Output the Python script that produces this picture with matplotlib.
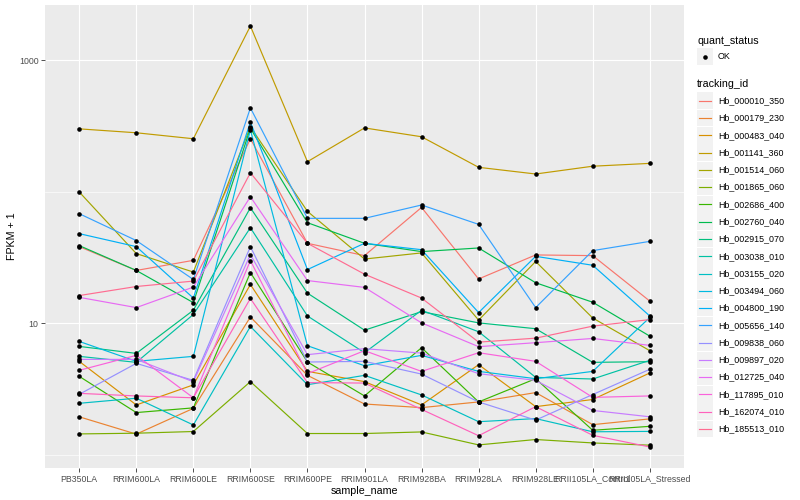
import matplotlib
matplotlib.use('Agg')
import matplotlib.pyplot as plt
from matplotlib.lines import Line2D
from matplotlib.patches import Rectangle
import numpy as np

plt.rcParams['font.family'] = ['Liberation Sans', 'DejaVu Sans']

sample_names = ['PB350LA', 'RRIM600LA', 'RRIM600LE', 'RRIM600SE', 'RRIM600PE',
                'RRIM901LA', 'RRIM928BA', 'RRIM928LA', 'RRIM928LE',
                'RRII105LA_Control', 'RRII105LA_Stressed']

tracking_ids = ['Hb_000010_350', 'Hb_000179_230', 'Hb_000483_040', 'Hb_001141_360',
                'Hb_001514_060', 'Hb_001865_060', 'Hb_002686_400', 'Hb_002760_040',
                'Hb_002915_070', 'Hb_003038_010', 'Hb_003155_020', 'Hb_003494_060',
                'Hb_004800_190', 'Hb_005656_140', 'Hb_009838_060', 'Hb_009897_020',
                'Hb_012725_040', 'Hb_117895_010', 'Hb_162074_010', 'Hb_185513_010']

# ggplot default hue palette for 20 levels
hue_colors = ['#F8766D', '#EA8331', '#D89000', '#C09B00', '#A3A500', '#7CAE00',
              '#39B600', '#00BB4E', '#00BF7D', '#00C1A3', '#00BFC4', '#00BAE0',
              '#00B0F6', '#35A2FF', '#9590FF', '#C77CFF', '#E76BF3', '#FA62DB',
              '#FF62BC', '#FF6C91']

# FPKM + 1 per sample (same order as sample_names)
hb_000010_350 = [38.4, 25.3, 30.2, 254, 40.7, 32.8, 76.3, 21.8, 33.2, 32.8, 14.8]
hb_000179_230 = [1.95, 1.44, 2.26, 11.2, 4.03, 2.44, 2.29, 2.53, 2.98, 1.70, 1.88]
hb_000483_040 = [5.15, 2.40, 3.41, 19.8, 4.32, 3.61, 2.40, 4.86, 2.33, 2.64, 4.20]
hb_001141_360 = [302, 282, 254, 1828, 170, 307, 263, 154, 137, 157, 165]
hb_001514_060 = [100, 34.0, 24.6, 313, 71.2, 30.9, 34.4, 10.6, 29.6, 11.0, 6.21]
hb_001865_060 = [1.445, 1.463, 1.507, 3.61, 1.455, 1.455, 1.496, 1.192, 1.31, 1.234, 1.186]
hb_002686_400 = [3.96, 2.10, 2.28, 24.4, 5.09, 2.81, 6.54, 2.53, 3.80, 1.54, 1.65]
hb_002760_040 = [39.1, 25.3, 14.4, 305, 58.4, 40.7, 35.2, 37.5, 20.4, 14.5, 8.01]
hb_002915_070 = [6.69, 5.92, 12.6, 75.9, 17.0, 8.89, 12.3, 10.1, 9.12, 5.06, 5.12]
hb_003038_010 = [5.62, 5.06, 11.7, 53.5, 11.4, 5.99, 12.6, 8.65, 3.89, 3.78, 5.24]
hb_003155_020 = [2.47, 2.70, 1.69, 9.49, 3.42, 4.03, 2.86, 1.79, 1.89, 1.50, 1.51]
hb_003494_060 = [7.30, 5.15, 5.62, 297, 6.77, 4.77, 5.72, 4.32, 3.80, 4.32, 11.1]
hb_004800_190 = [48.2, 38.4, 15.6, 341, 25.7, 40.7, 36.4, 12.1, 32.4, 27.7, 11.4]
hb_005656_140 = [68.4, 42.7, 21.6, 436, 63.0, 63.0, 79.6, 56.7, 13.2, 35.8, 42.1]
hb_009838_060 = [2.89, 4.97, 3.69, 38.4, 5.09, 5.15, 4.12, 2.53, 1.84, 2.88, 4.48]
hb_009897_020 = [5.33, 5.33, 3.60, 33.4, 5.79, 6.43, 5.95, 4.15, 3.69, 2.18, 1.95]
hb_012725_040 = [15.8, 13.2, 18.9, 92.0, 21.2, 18.8, 10.1, 6.66, 7.14, 7.69, 6.81]
hb_117895_010 = [4.40, 5.72, 2.72, 30.1, 4.15, 6.21, 4.32, 5.99, 5.15, 2.74, 2.81]
hb_162074_010 = [2.94, 2.81, 2.72, 15.5, 3.55, 3.52, 2.22, 1.40, 2.33, 1.41, 1.15]
hb_185513_010 = [16.3, 19.1, 21.0, 140, 40.7, 23.7, 15.6, 7.21, 7.73, 9.54, 10.7]

series = [hb_000010_350, hb_000179_230, hb_000483_040, hb_001141_360, hb_001514_060,
          hb_001865_060, hb_002686_400, hb_002760_040, hb_002915_070, hb_003038_010,
          hb_003155_020, hb_003494_060, hb_004800_190, hb_005656_140, hb_009838_060,
          hb_009897_020, hb_012725_040, hb_117895_010, hb_162074_010, hb_185513_010]

W, H = 800, 500
fig = plt.figure(figsize=(W / 100, H / 100), dpi=100)
ax = fig.add_axes([45 / W, 1 - 468 / H, (684 - 45) / W, (468 - 5) / H])
ax.set_facecolor('#EBEBEB')
for s in ax.spines.values():
    s.set_visible(False)

x = np.arange(len(sample_names))
for vals, col in zip(series, hue_colors):
    ax.plot(x, vals, color=col, lw=0.85, zorder=3, solid_capstyle='butt')
for vals in series:
    ax.plot(x, vals, 'o', color='black', ms=3.3, mew=0, zorder=4)

ax.set_yscale('log')
ax.set_xlim(-0.6, len(sample_names) - 0.4)
allv = np.concatenate([np.asarray(v, dtype=float) for v in series])
lo, hi = np.log10(allv.min()), np.log10(allv.max())
pad = 0.05 * (hi - lo)
ax.set_ylim(10 ** (lo - pad), 10 ** (hi + pad))

ax.set_yticks([10, 1000])
ax.set_yticklabels(['10', '1000'])
ax.set_yticks([1, 100], minor=True)
ax.set_yticklabels([], minor=True)
ax.set_xticks(x)
ax.set_xticklabels(sample_names)

ax.grid(True, which='major', color='white', lw=0.85, zorder=0)
ax.grid(True, which='minor', axis='y', color='white', lw=0.45, zorder=0)
ax.set_axisbelow(True)
ax.tick_params(which='major', length=2.7, width=0.6, color='#333333',
               labelsize=6.3, labelcolor='#4D4D4D', pad=2)
ax.tick_params(which='minor', length=0)

ax.set_xlabel('sample_name', fontsize=7.7, labelpad=2)
ax.set_ylabel('FPKM + 1', fontsize=7.7, labelpad=1)


# legend, drawn in pixel coordinates like ggplot's guide boxes
def fx(px):
    return px / W


def fy(py):
    return 1 - py / H


fig.text(fx(697), fy(40.5), 'quant_status', fontsize=7.7, va='center', ha='left')
fig.add_artist(Rectangle((fx(697), fy(65)), 16 / W, 17 / H, transform=fig.transFigure,
                         facecolor='#F2F2F2', edgecolor='none'))
fig.add_artist(Line2D([fx(705)], [fy(56.5)], marker='o', color='black', ms=3.3, mew=0,
                      transform=fig.transFigure))
fig.text(fx(718), fy(56.5), 'OK', fontsize=6.4, va='center', ha='left')

fig.text(fx(697), fy(84), 'tracking_id', fontsize=7.7, va='center', ha='left')
y0, dy = 100.8, 17.27
for i, (tid, col) in enumerate(zip(tracking_ids, hue_colors)):
    yc = y0 + i * dy
    fig.add_artist(Rectangle((fx(697), fy(yc + 8.3)), 16 / W, 16.6 / H,
                             transform=fig.transFigure, facecolor='#F2F2F2',
                             edgecolor='none'))
    fig.add_artist(Line2D([fx(699), fx(711)], [fy(yc), fy(yc)], color=col, lw=0.85,
                          transform=fig.transFigure))
    fig.text(fx(718), fy(yc), tid, fontsize=6.4, va='center', ha='left')

fig.savefig('out.png', dpi=100)
